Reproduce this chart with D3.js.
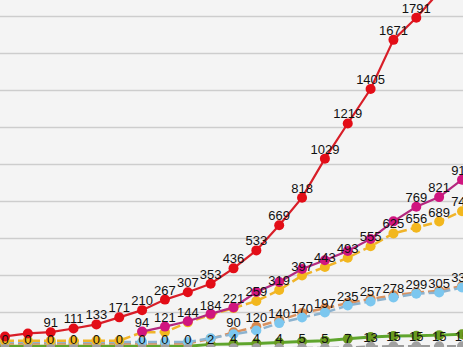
<!DOCTYPE html>
<html>
<head>
<meta charset="utf-8">
<script src="https://cdn.jsdelivr.net/npm/d3@7"></script>
<style>
  html, body { margin: 0; padding: 0; background: #f4f4f4; overflow: hidden; }
  svg { display: block; }
</style>
</head>
<body>
<svg id="chart" width="463" height="347"></svg>
<script>
// ---- data (index = day position, 0..20) ----
const days = d3.range(0, 21);
const gridTicks = [0, 200, 400, 600, 800, 1000, 1200, 1400, 1600, 1800];

const redValues     = [68, 84, 91, 111, 133, 171, 210, 267, 307, 353, 436, 533, 669, 818, 1029, 1219, 1405, 1671, 1791, 1930, 2060];
const redLabels     = [null, null, 91, 111, 133, 171, 210, 267, 307, 353, 436, 533, 669, 818, 1029, 1219, 1405, 1671, 1791, null, null];

const magentaValues = [null, null, null, null, null, null, 94, 121, 150, 190, 225, 308, 362, 432, 480, 530, 595, 690, 769, 821, 915];
const magentaLabels = [null, null, null, null, null, null, 94, 121, null, null, null, null, null, null, null, null, null, null, 769, 821, 915];

const yellowValues  = [45, 45, 45, 45, 45, 45, 90, 92, 144, 184, 221, 259, 319, 397, 443, 493, 555, 625, 656, 689, 745];
const yellowLabels  = [null, null, null, null, null, null, null, null, 144, 184, 221, 259, 319, 397, 443, 493, 555, 625, 656, 689, 745];

const orangeValues  = [30, 30, 30, 30, 30, 30, 30, 30, 30, 55, 90, 120, 155, 195, 220, 248, 270, 290, 305, 315, 340];
const orangeLabels  = [null, null, null, null, null, null, null, null, null, null, 90, 120, null, null, null, null, null, null, null, null, null];

const blueValues    = [38, 38, 38, 38, 38, 38, 38, 38, 38, 58, 80, 100, 140, 170, 197, 235, 257, 278, 299, 305, 333];
const blueLabels    = [null, null, null, null, null, null, null, null, null, null, null, null, 140, 170, 197, 235, 257, 278, 299, 305, 333];

const greenValues   = [15, 15, 15, 15, 15, 15, 15, 15, 15, 25, 27, 30, 35, 40, 45, 55, 65, 70, 72, 75, 80];

const grayValues    = [0, 0, 0, 0, 0, 0, 0, 0, 0, 2, 4, 4, 4, 5, 5, 7, 13, 15, 15, 15, 15];
const grayLabels    = grayValues;

// ---- series styling (drawing order) ----
const series = [
  { name: "green",   values: greenValues,   labels: null,          line: "#5fa52d", dot: "#6a9b1f", width: 3,   dash: null },
  { name: "orange",  values: orangeValues,  labels: orangeLabels,  line: "#d9915f", dot: "#d9884c", width: 2.5, dash: "9,4" },
  { name: "blue",    values: blueValues,    labels: blueLabels,    line: "#8db3cf", dot: "#7cc7ef", width: 2.5, dash: "9,4" },
  { name: "yellow",  values: yellowValues,  labels: yellowLabels,  line: "#f0b429", dot: "#f2b71e", width: 2.5, dash: "9,4" },
  { name: "magenta", values: magentaValues, labels: magentaLabels, line: "#b4287f", dot: "#d0157f", width: 2.2, dash: null },
  { name: "red",     values: redValues,     labels: redLabels,     line: "#d81e28", dot: "#e30d17", width: 2.2, dash: null },
  { name: "gray",    values: grayValues,    labels: grayLabels,    line: "#9a9a9a", dot: "#a0a0a0", width: 2.5, dash: "9,4" }
];

const W = 463, H = 347;
const svg = d3.select("#chart");

svg.append("rect").attr("width", W).attr("height", H).attr("fill", "#f4f4f4");

const x = d3.scaleLinear().domain([0, 20]).range([5, 462]);
const y = d3.scaleLinear().domain([0, 1800]).range([349, 16]);

// gridlines via axis
const grid = svg.append("g")
  .call(d3.axisLeft(y).tickValues(gridTicks).tickSize(-W).tickFormat(""));
grid.select(".domain").remove();
grid.selectAll(".tick line").attr("stroke", "#cdcdcd").attr("stroke-width", 1.5);

const lineGen = d3.line()
  .defined(d => d.v != null)
  .x(d => x(d.i))
  .y(d => y(d.v));

const marks = svg.append("g").attr("class", "marks");
const labelLayer = svg.append("g").attr("class", "labels");

series.forEach(s => {
  const pts = days.map(i => ({ i, v: s.values[i], label: s.labels ? s.labels[i] : null }));
  const g = marks.append("g").attr("class", s.name);
  g.append("path")
    .datum(pts)
    .attr("fill", "none")
    .attr("stroke", s.line)
    .attr("stroke-width", s.width)
    .attr("stroke-dasharray", s.dash)
    .attr("d", lineGen);
  g.selectAll("circle")
    .data(pts.filter(d => d.v != null))
    .join("circle")
    .attr("cx", d => x(d.i))
    .attr("cy", d => y(d.v))
    .attr("r", 5)
    .attr("fill", s.dot);
  labelLayer.append("g").attr("class", s.name + "-labels")
    .selectAll("text")
    .data(pts.filter(d => d.v != null && d.label != null))
    .join("text")
    .attr("x", d => x(d.i))
    .attr("y", d => y(d.v) - 5)
    .attr("text-anchor", "middle")
    .attr("font-family", "'Liberation Sans', Arial, sans-serif")
    .attr("font-size", 13)
    .attr("fill", "#111")
    .text(d => d.label);
});
</script>
</body>
</html>
